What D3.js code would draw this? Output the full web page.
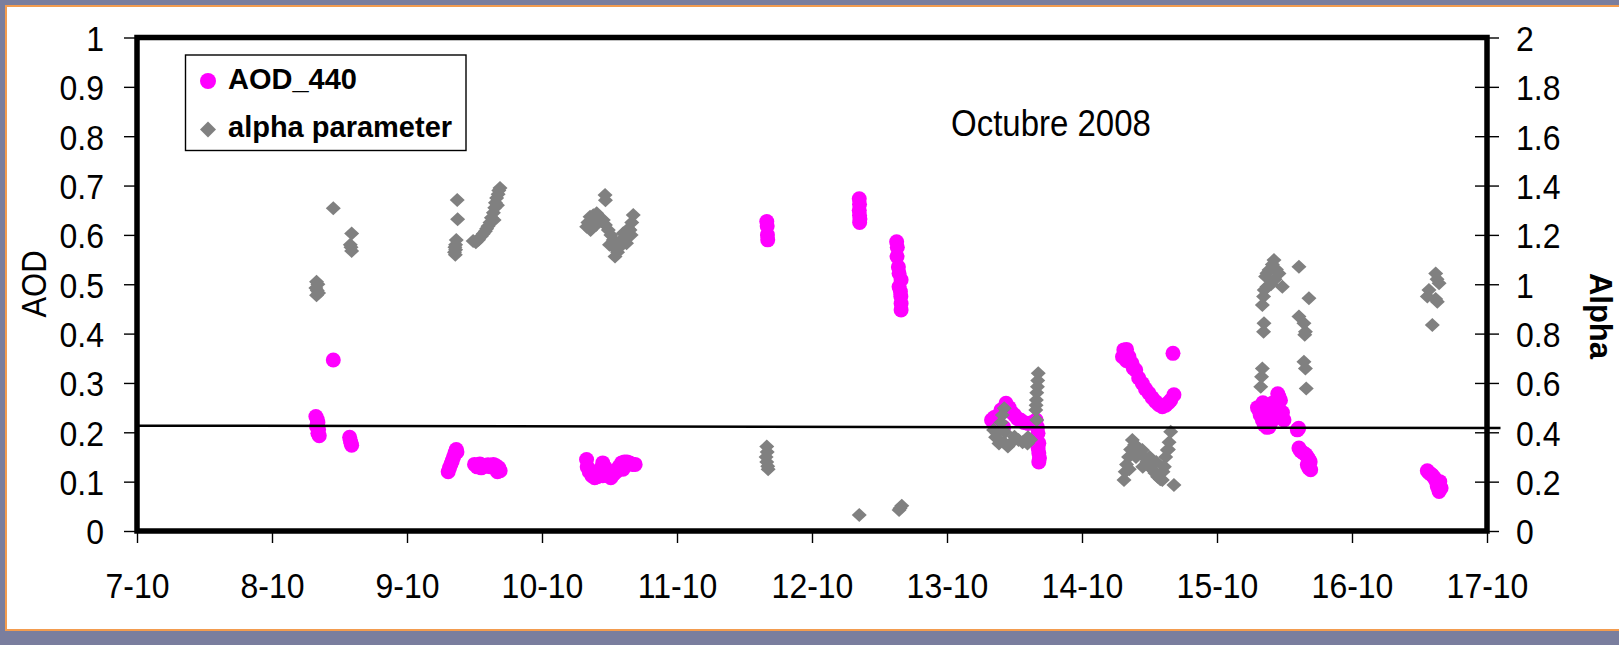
<!DOCTYPE html>
<html>
<head>
<meta charset="utf-8">
<script src="https://cdn.jsdelivr.net/npm/d3@7"></script>
<style>
  html, body { margin: 0; padding: 0; background: #7a7e9e; }
  svg { display: block; }
  text { font-family: "Liberation Sans", Arial, sans-serif; fill: #000; }
</style>
</head>
<body>
<svg width="1619" height="645"></svg>
<script>
// x = day of October 2008 (fractional), y = value
var dayTicks = [7, 8, 9, 10, 11, 12, 13, 14, 15, 16, 17];
var aodTicks = [0, 0.1, 0.2, 0.3, 0.4, 0.5, 0.6, 0.7, 0.8, 0.9, 1];
var alphaTicks = [0, 0.2, 0.4, 0.6, 0.8, 1, 1.2, 1.4, 1.6, 1.8, 2];

// AOD_440 (left axis)
var aod440 = [
  [8.325, 0.232], [8.335, 0.226], [8.34, 0.22], [8.33, 0.212], [8.345, 0.205], [8.34, 0.198], [8.35, 0.193],
  [8.454, 0.3465],
  [8.575, 0.19], [8.58, 0.184], [8.585, 0.178], [8.59, 0.174],
  [9.305, 0.12], [9.315, 0.128], [9.325, 0.135], [9.335, 0.142], [9.345, 0.15], [9.355, 0.158], [9.365, 0.165], [9.37, 0.16],
  [9.5, 0.135], [9.52, 0.13], [9.54, 0.136], [9.56, 0.133], [9.58, 0.131], [9.6, 0.134], [9.62, 0.13],
  [9.64, 0.135], [9.66, 0.132], [9.68, 0.128], [9.69, 0.122], [9.67, 0.12], [9.55, 0.128],
  [10.33, 0.145], [10.335, 0.13], [10.35, 0.12], [10.37, 0.112], [10.39, 0.108], [10.41, 0.11], [10.43, 0.125],
  [10.45, 0.138], [10.47, 0.128], [10.49, 0.112], [10.51, 0.108], [10.53, 0.115], [10.55, 0.12], [10.57, 0.13],
  [10.59, 0.138], [10.61, 0.14], [10.63, 0.14], [10.65, 0.138], [10.67, 0.135], [10.69, 0.135], [10.6, 0.125], [10.45, 0.112],
  [11.665, 0.627], [11.668, 0.618], [11.67, 0.6], [11.672, 0.59],
  [12.35, 0.673], [12.352, 0.662], [12.35, 0.65], [12.352, 0.64], [12.355, 0.632], [12.353, 0.625],
  [12.627, 0.586], [12.632, 0.575], [12.63, 0.556], [12.64, 0.535], [12.645, 0.522], [12.66, 0.509],
  [12.645, 0.495], [12.655, 0.485], [12.658, 0.475], [12.66, 0.461], [12.66, 0.448],
  [13.33, 0.225], [13.35, 0.23], [13.37, 0.232], [13.4, 0.245], [13.437, 0.259], [13.46, 0.25], [13.48, 0.24],
  [13.5, 0.235], [13.52, 0.228], [13.544, 0.225], [13.57, 0.22], [13.6, 0.218], [13.63, 0.22], [13.66, 0.225],
  [13.674, 0.198], [13.68, 0.178], [13.68, 0.158], [13.68, 0.14], [13.39, 0.215], [13.42, 0.21], [13.67, 0.21],
  [13.675, 0.168], [13.685, 0.148],
  [14.3, 0.353], [14.31, 0.367], [14.33, 0.368], [14.348, 0.353], [14.37, 0.34], [14.398, 0.326], [14.42, 0.31],
  [14.447, 0.299], [14.47, 0.288], [14.496, 0.279], [14.52, 0.27], [14.546, 0.262], [14.57, 0.256], [14.595, 0.252],
  [14.62, 0.255], [14.64, 0.26], [14.657, 0.265], [14.681, 0.276], [14.33, 0.345], [14.38, 0.33],
  [14.674, 0.36],
  [15.3, 0.25], [15.31, 0.245], [15.32, 0.235], [15.336, 0.225], [15.35, 0.215], [15.37, 0.21], [15.385, 0.211],
  [15.4, 0.22], [15.41, 0.259], [15.42, 0.25], [15.43, 0.24], [15.44, 0.23], [15.459, 0.272], [15.47, 0.265],
  [15.472, 0.232], [15.485, 0.24], [15.496, 0.225], [15.36, 0.255], [15.34, 0.26], [15.39, 0.245], [15.45, 0.278],
  [15.595, 0.205], [15.605, 0.208],
  [15.607, 0.168], [15.62, 0.162], [15.64, 0.158], [15.657, 0.155], [15.67, 0.15], [15.681, 0.145],
  [15.669, 0.134], [15.68, 0.128], [15.694, 0.124], [15.69, 0.14],
  [16.558, 0.122], [16.57, 0.118], [16.585, 0.115], [16.595, 0.113], [16.61, 0.108], [16.62, 0.103],
  [16.63, 0.095], [16.632, 0.09], [16.645, 0.08], [16.66, 0.087], [16.65, 0.1]
];

// alpha parameter (right axis)
var alphaParameter = [
  [8.33, 1.01], [8.34, 1.0], [8.325, 0.985], [8.335, 0.975], [8.345, 0.965], [8.33, 0.955],
  [8.454, 1.308],
  [8.59, 1.206], [8.58, 1.16], [8.585, 1.15], [8.59, 1.135],
  [9.372, 1.341], [9.375, 1.263], [9.365, 1.179], [9.36, 1.16], [9.355, 1.15], [9.36, 1.14], [9.352, 1.13], [9.358, 1.12],
  [9.49, 1.175], [9.51, 1.17], [9.53, 1.18], [9.55, 1.195], [9.565, 1.205], [9.58, 1.215], [9.59, 1.225],
  [9.6, 1.235], [9.615, 1.25], [9.625, 1.27], [9.64, 1.29], [9.65, 1.31], [9.655, 1.33], [9.664, 1.35],
  [9.675, 1.365], [9.68, 1.38], [9.689, 1.39], [9.67, 1.32], [9.645, 1.26],
  [10.467, 1.362], [10.47, 1.34], [10.331, 1.233], [10.34, 1.25], [10.356, 1.274], [10.38, 1.28], [10.405, 1.288],
  [10.43, 1.27], [10.454, 1.26], [10.47, 1.24], [10.491, 1.22], [10.51, 1.2], [10.528, 1.179], [10.53, 1.15],
  [10.541, 1.112], [10.56, 1.13], [10.578, 1.152], [10.59, 1.18], [10.602, 1.207], [10.62, 1.21], [10.64, 1.225],
  [10.652, 1.22], [10.665, 1.25], [10.676, 1.281], [10.66, 1.2], [10.626, 1.166], [10.36, 1.22], [10.4, 1.24],
  [10.5, 1.16], [10.55, 1.17],
  [11.665, 0.342], [11.668, 0.32], [11.66, 0.3], [11.665, 0.28], [11.672, 0.262], [11.675, 0.25],
  [12.35, 0.065],
  [12.652, 0.092], [12.665, 0.102], [12.645, 0.085],
  [13.424, 0.497], [13.41, 0.47], [13.345, 0.409], [13.36, 0.38], [13.385, 0.355], [13.42, 0.36], [13.451, 0.342],
  [13.48, 0.36], [13.53, 0.369], [13.56, 0.36], [13.596, 0.355], [13.37, 0.396], [13.43, 0.4], [13.5, 0.382],
  [13.4, 0.44], [13.6, 0.38], [13.62, 0.37],
  [13.676, 0.639], [13.672, 0.61], [13.67, 0.585], [13.665, 0.56], [13.662, 0.531], [13.66, 0.51], [13.658, 0.49], [13.665, 0.45],
  [14.311, 0.207], [14.32, 0.24], [14.33, 0.27], [14.345, 0.3], [14.36, 0.33], [14.373, 0.369], [14.39, 0.35],
  [14.41, 0.34], [14.43, 0.33], [14.447, 0.328], [14.46, 0.3], [14.48, 0.28], [14.5, 0.26], [14.52, 0.25],
  [14.54, 0.235], [14.56, 0.22], [14.58, 0.21], [14.595, 0.207], [14.61, 0.26], [14.62, 0.3], [14.632, 0.328],
  [14.645, 0.36], [14.657, 0.402], [14.681, 0.186], [14.35, 0.25], [14.4, 0.3], [14.45, 0.26], [14.5, 0.3],
  [14.55, 0.28], [14.6, 0.24], [14.64, 0.33],
  [15.422, 1.098], [15.41, 1.08], [15.385, 1.058], [15.37, 1.045], [15.36, 1.031], [15.459, 1.044], [15.44, 1.06],
  [15.43, 1.02], [15.484, 0.99], [15.35, 0.977], [15.345, 0.95], [15.336, 0.916], [15.607, 1.071], [15.681, 0.943],
  [15.348, 0.842], [15.345, 0.808], [15.336, 0.659], [15.33, 0.625], [15.324, 0.585], [15.607, 0.869],
  [15.644, 0.842], [15.655, 0.808], [15.65, 0.795], [15.644, 0.686], [15.655, 0.659], [15.661, 0.578],
  [15.4, 1.0], [15.37, 0.99],
  [16.62, 1.044], [16.645, 1.004], [16.63, 1.02], [16.57, 0.977], [16.558, 0.95], [16.632, 0.929], [16.62, 0.94], [16.595, 0.835]
];

// horizontal reference (trend) line on the AOD axis
var aodTrend = [[7, 0.2135], [17.1, 0.2085]];

var legendLabels = ["AOD_440", "alpha parameter"];
var monthLabel = "Octubre 2008";

var svg = d3.select("svg");

// slide background + white panel with orange border
svg.append("rect")
    .attr("width", 1619).attr("height", 645)
    .attr("fill", "#7a7e9e");
svg.append("rect")
    .attr("x", 6).attr("y", 6)
    .attr("width", 1630).attr("height", 624)
    .attr("fill", "#fff")
    .attr("stroke", "#f39c4f")
    .attr("stroke-width", 2);

var x = d3.scaleLinear().domain([7, 17]).range([137, 1487]);
var yL = d3.scaleLinear().domain([0, 1]).range([531, 37.5]);
var yR = d3.scaleLinear().domain([0, 2]).range([531, 37.5]);

function styleAxis(g) {
    g.attr("font-size", null).attr("font-family", null);
    g.select(".domain").remove();
    g.selectAll(".tick line").attr("stroke", "#000").attr("stroke-width", 1.4);
    g.selectAll(".tick text")
        .attr("font-size", 32)
        .attr("fill", "#000");
}

// left axis (AOD)
var gLeft = svg.append("g")
    .attr("transform", "translate(" + x.range()[0] + ",0)")
    .call(d3.axisLeft(yL).tickValues(aodTicks).tickSizeInner(13).tickSizeOuter(0)
        .tickFormat(function (d) { return String(d); }))
    .call(styleAxis);
gLeft.selectAll(".tick text")
    .attr("x", 0).attr("dy", "0.36em")
    .attr("transform", "translate(-33,0) scale(1,1.12)");

// right axis (Alpha), ticks cross the axis
var gRight = svg.append("g")
    .attr("transform", "translate(" + x.range()[1] + ",0)")
    .call(d3.axisRight(yR).tickValues(alphaTicks).tickSizeInner(12).tickSizeOuter(0)
        .tickFormat(function (d) { return String(d); }))
    .call(styleAxis);
gRight.selectAll(".tick line").attr("x1", -12);
gRight.selectAll(".tick text")
    .attr("x", 0).attr("dy", "0.36em")
    .attr("transform", "translate(29,0) scale(1,1.12)");

// bottom axis (days)
var gBottom = svg.append("g")
    .attr("transform", "translate(0," + yL.range()[0] + ")")
    .call(d3.axisBottom(x).tickValues(dayTicks).tickSizeInner(12).tickSizeOuter(0)
        .tickFormat(function (d) { return d + "-10"; }))
    .call(styleAxis);
gBottom.selectAll(".tick text")
    .attr("y", 0).attr("dy", 0)
    .attr("transform", "translate(0,66.5) scale(1,1.12)");

// axis titles
svg.append("text")
    .attr("transform", "translate(46,284) rotate(-90) scale(1,1.15)")
    .attr("text-anchor", "middle")
    .attr("font-size", 31)
    .text("AOD");

svg.append("text")
    .attr("transform", "translate(1590,316) rotate(90)")
    .attr("text-anchor", "middle")
    .attr("font-size", 31)
    .attr("font-weight", "bold")
    .text("Alpha");

svg.append("text")
    .attr("transform", "translate(951,136) scale(1,1.1)")
    .attr("font-size", 33)
    .text(monthLabel);

var diamond = "M0,-7L7.5,0L0,7L-7.5,0Z";

// AOD points
svg.append("g")
    .selectAll("circle")
    .data(aod440)
    .enter().append("circle")
    .attr("cx", function (d) { return x(d[0]); })
    .attr("cy", function (d) { return yL(d[1]); })
    .attr("r", 7.5)
    .attr("fill", "#ff00ff");

// alpha points on top
svg.append("g")
    .selectAll("path")
    .data(alphaParameter)
    .enter().append("path")
    .attr("d", diamond)
    .attr("transform", function (d) { return "translate(" + x(d[0]) + "," + yR(d[1]) + ")"; })
    .attr("fill", "#808080");

// trend line
svg.append("path")
    .datum(aodTrend)
    .attr("d", d3.line()
        .x(function (d) { return x(d[0]); })
        .y(function (d) { return yL(d[1]); }))
    .attr("fill", "none")
    .attr("stroke", "#000")
    .attr("stroke-width", 2.5);

// plot frame
svg.append("rect")
    .attr("x", x.range()[0]).attr("y", yL.range()[1])
    .attr("width", x.range()[1] - x.range()[0])
    .attr("height", yL.range()[0] - yL.range()[1])
    .attr("fill", "none")
    .attr("stroke", "#000")
    .attr("stroke-width", 5.5);

// legend
var legend = svg.append("g");
legend.append("rect")
    .attr("x", 185.5).attr("y", 55)
    .attr("width", 280.5).attr("height", 95.5)
    .attr("fill", "#fff")
    .attr("stroke", "#000")
    .attr("stroke-width", 1.4);
legend.append("circle")
    .attr("cx", 208).attr("cy", 81).attr("r", 8)
    .attr("fill", "#ff00ff");
legend.append("path")
    .attr("d", "M0,-8L8,0L0,8L-8,0Z")
    .attr("transform", "translate(208,129.5)")
    .attr("fill", "#808080");
legend.selectAll("text.lbl")
    .data(legendLabels)
    .enter().append("text")
    .attr("class", "lbl")
    .attr("x", 228)
    .attr("y", function (d, i) { return 89 + i * 48.3; })
    .attr("font-size", 29)
    .attr("font-weight", "bold")
    .text(function (d) { return d; });
</script>
</body>
</html>
